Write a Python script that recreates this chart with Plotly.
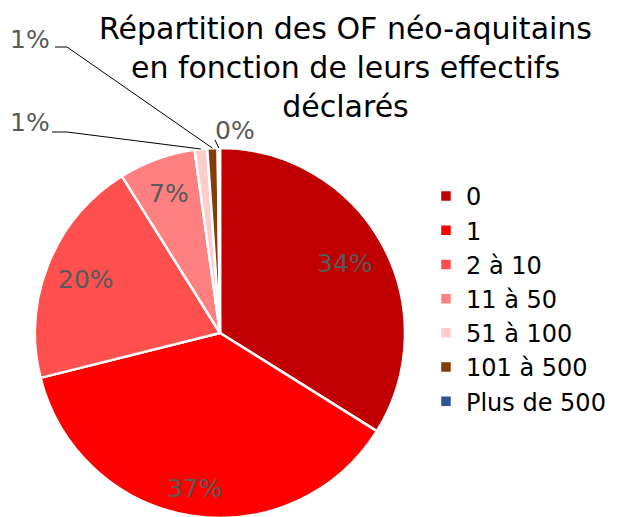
import math
import plotly.graph_objects as go

categories = ["0", "1", "2 à 10", "11 à 50", "51 à 100", "101 à 500", "Plus de 500"]
values = [33.9, 37.2, 20.0, 6.7, 1.1, 0.9, 0.2]
colors = ["#C00000", "#FF0000", "#FF5050", "#FF8080", "#FFCCCC", "#843C0C", "#2F5597"]
title_text = "Répartition des OF néo-aquitains<br>en fonction de leurs effectifs<br>déclarés"

FONT = "'DejaVu Sans', sans-serif"
W, H = 626, 517
OFF = 8  # page body margin of the browser


def px(sx):
    return (sx - OFF) / W


def py(sy):
    return 1 - (sy - OFF) / H


total = sum(values)
pct = [f"{round(v / total * 100):d}%" for v in values]

# pie geometry in screen pixels
CX, CY, R = 220, 333, 185
dom_x = [px(CX - R), px(CX + R)]
dom_y = [max(0.0, py(CY + R)), py(CY - R)]

fig = go.Figure(go.Pie(
    labels=categories, values=values, sort=False, direction="clockwise", rotation=0,
    marker=dict(colors=colors, line=dict(color="white", width=2.5)),
    textinfo="none",
    domain=dict(x=dom_x, y=dom_y),
    hoverinfo="label+percent",
))

cum = 0
mids = []
for v in values:
    mids.append((cum + v / 2) / total * 2 * math.pi)
    cum += v

lab_font = dict(family=FONT, size=25, color="#595959")


def label(sx, sy, text):
    fig.add_annotation(x=px(sx), y=py(sy), xref="paper", yref="paper",
                       xanchor="center", yanchor="middle",
                       text=text, showarrow=False, font=lab_font)


# inside labels (large slices)
r_fac = [0.77, 0.85, 0.78, 0.80]
for i, rf in enumerate(r_fac):
    a = mids[i]
    label(CX + R * rf * math.sin(a), CY - R * rf * math.cos(a), pct[i])

# outside labels with leader lines (small slices)
outside = {4: ((30, 123), (52, 132), (67, 132)),
           5: ((30, 39), (55, 47), (67, 47)),
           6: ((235, 131), None, (215, 140))}
for i, (lab, seg0, seg1) in outside.items():
    label(lab[0], lab[1], pct[i])
    a = mids[i]
    tx = CX + R * math.sin(a)
    ty = CY - R * math.cos(a)
    fig.add_shape(type="line", xref="paper", yref="paper",
                  x0=px(seg1[0]), y0=py(seg1[1]), x1=px(tx), y1=py(ty),
                  line=dict(color="#000000", width=1))
    if seg0 is not None:
        fig.add_shape(type="line", xref="paper", yref="paper",
                      x0=px(seg0[0]), y0=py(seg0[1]), x1=px(seg1[0]), y1=py(seg1[1]),
                      line=dict(color="#000000", width=1))

# title
fig.add_annotation(x=px(345), y=py(67), xref="paper", yref="paper",
                   xanchor="center", yanchor="middle", text=title_text, showarrow=False,
                   font=dict(family=FONT, size=30, color="#000000"))

fig.update_layout(
    width=W, height=H, margin=dict(l=0, r=0, t=0, b=0),
    paper_bgcolor="white", plot_bgcolor="white",
    legend=dict(x=0.6677, y=0.679, xanchor="left", yanchor="top",
                font=dict(family=FONT, size=24, color="#000000")),
    showlegend=True,
)

fig.write_html("out.html")
